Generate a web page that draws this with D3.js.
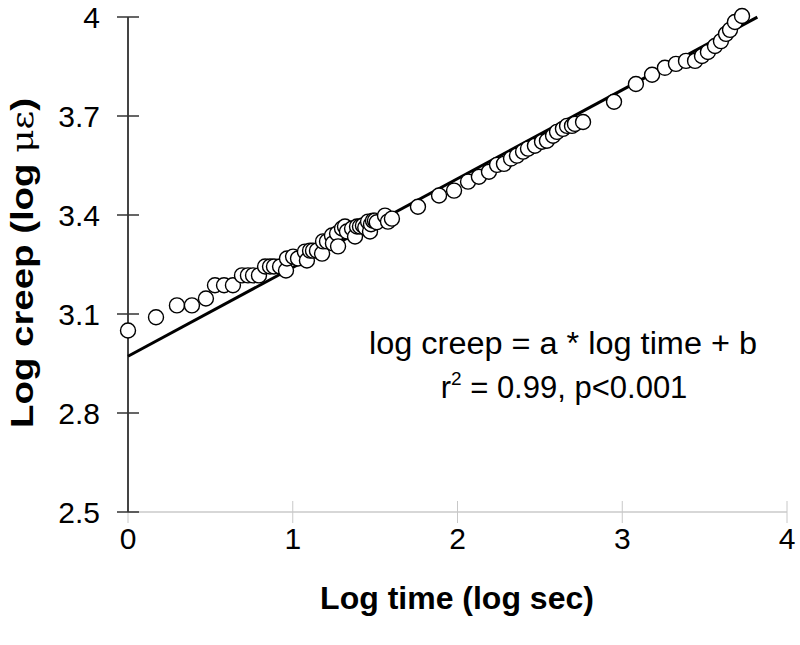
<!DOCTYPE html>
<html>
<head>
<meta charset="utf-8">
<script src="https://cdn.jsdelivr.net/npm/d3@7"></script>
<style>
  html, body { margin: 0; padding: 0; background: #fff; }
  svg { display: block; font-family: "Liberation Sans", Arial, sans-serif; }
</style>
</head>
<body>
<svg id="chart" width="800" height="645"></svg>
<script>
// Data: log time (log sec) vs log creep (log microstrain)
const logTime = [0.0, 0.17, 0.297, 0.388, 0.473, 0.528, 0.583, 0.637, 0.692, 0.728, 0.759, 0.795,
  0.832, 0.862, 0.886, 0.923, 0.959, 0.965, 1.002, 1.032, 1.074, 1.086, 1.105, 1.123, 1.147, 1.178,
  1.184, 1.208, 1.238, 1.244, 1.269, 1.275, 1.299, 1.317, 1.329, 1.36, 1.378, 1.39, 1.408, 1.426,
  1.44, 1.457, 1.469, 1.475, 1.487, 1.499, 1.51, 1.56, 1.578, 1.602, 1.76, 1.888, 1.979, 2.064,
  2.13, 2.191, 2.24, 2.282, 2.325, 2.361, 2.398, 2.428, 2.47, 2.513, 2.543, 2.58, 2.604, 2.64,
  2.665, 2.695, 2.713, 2.762, 2.95, 3.083, 3.181, 3.259, 3.326, 3.387, 3.442, 3.484, 3.52, 3.563,
  3.599, 3.63, 3.654, 3.684, 3.727];
const logCreep = [3.05, 3.09, 3.126, 3.126, 3.147, 3.187, 3.187, 3.187, 3.217, 3.217, 3.217, 3.217,
  3.244, 3.244, 3.244, 3.244, 3.232, 3.268, 3.274, 3.268, 3.289, 3.262, 3.292, 3.292, 3.292, 3.283,
  3.32, 3.32, 3.338, 3.314, 3.344, 3.305, 3.359, 3.365, 3.35, 3.359, 3.335, 3.365, 3.365, 3.368,
  3.362, 3.38, 3.35, 3.372, 3.383, 3.383, 3.378, 3.398, 3.38, 3.389, 3.425, 3.459, 3.474, 3.501,
  3.516, 3.531, 3.552, 3.555, 3.571, 3.58, 3.592, 3.601, 3.61, 3.622, 3.625, 3.64, 3.652, 3.661,
  3.67, 3.67, 3.676, 3.682, 3.743, 3.797, 3.825, 3.846, 3.858, 3.867, 3.867, 3.882, 3.894, 3.912,
  3.927, 3.949, 3.961, 3.985, 4.003];
// Fitted regression line: log creep = a * log time + b
const fitA = 0.269;
const fitB = 2.972;
const fitRange = [0, 3.82];
const xTicks = [0, 1, 2, 3, 4];
const yTicks = [2.5, 2.8, 3.1, 3.4, 3.7, 4.0];
const yTickLabels = ["2.5", "2.8", "3.1", "3.4", "3.7", "4"];

const svg = d3.select("#chart");
const x = d3.scaleLinear().domain([0, 4]).range([128, 787]);
const y = d3.scaleLinear().domain([2.5, 4]).range([512, 17]);

// X axis (light grey, crossing ticks)
const gx = svg.append("g");
gx.append("line").attr("x1", x(0)).attr("x2", x(4)).attr("y1", y(2.5)).attr("y2", y(2.5))
  .attr("stroke", "#b0b0b0").attr("stroke-width", 1.2);
gx.selectAll("line.tick").data(xTicks).join("line").attr("class", "tick")
  .attr("x1", d => x(d)).attr("x2", d => x(d))
  .attr("y1", y(2.5) - 11).attr("y2", y(2.5) + 11)
  .attr("stroke", "#c8c8c8").attr("stroke-width", 1);
gx.selectAll("text").data(xTicks).join("text")
  .attr("x", d => x(d)).attr("y", 549)
  .attr("text-anchor", "middle").attr("font-size", 30).attr("fill", "#000")
  .text(d => d);

// Y axis (dark, crossing ticks)
const gy = svg.append("g");
gy.append("line").attr("x1", x(0)).attr("x2", x(0)).attr("y1", y(2.5)).attr("y2", y(4))
  .attr("stroke", "#444").attr("stroke-width", 2);
gy.selectAll("line.tick").data(yTicks).join("line").attr("class", "tick")
  .attr("x1", x(0) - 11).attr("x2", x(0) + 11)
  .attr("y1", d => y(d)).attr("y2", d => y(d))
  .attr("stroke", "#333").attr("stroke-width", 1.5);
gy.selectAll("text").data(yTicks).join("text")
  .attr("x", 100).attr("y", d => y(d) + 11)
  .attr("text-anchor", "end").attr("font-size", 30).attr("fill", "#000")
  .text((d, i) => yTickLabels[i]);

// Regression line
svg.append("line")
  .attr("x1", x(fitRange[0])).attr("y1", y(fitA * fitRange[0] + fitB))
  .attr("x2", x(fitRange[1])).attr("y2", y(fitA * fitRange[1] + fitB))
  .attr("stroke", "#000").attr("stroke-width", 3);

// Points
svg.append("g").selectAll("circle").data(logTime).join("circle")
  .attr("cx", d => x(d)).attr("cy", (d, i) => y(logCreep[i]))
  .attr("r", 7.5).attr("fill", "#fff").attr("stroke", "#000").attr("stroke-width", 1.4);

// Axis titles
svg.append("text").attr("x", 457).attr("y", 609).attr("text-anchor", "middle")
  .attr("font-size", 32).attr("font-weight", "bold").text("Log time (log sec)");

const yt = svg.append("text").attr("transform", "translate(33,263) rotate(-90)")
  .attr("text-anchor", "middle").attr("font-size", 32).attr("font-weight", "bold")
  .attr("textLength", 330).attr("lengthAdjust", "spacingAndGlyphs");
yt.append("tspan").text("Log creep (log ");
yt.append("tspan").attr("font-weight", "normal").attr("font-family", "'DejaVu Serif', serif").attr("font-size", 30).text("με");
yt.append("tspan").text(")");

// Equation text
svg.append("text").attr("x", 563).attr("y", 354).attr("text-anchor", "middle")
  .attr("font-size", 31).attr("textLength", 388).attr("lengthAdjust", "spacingAndGlyphs")
  .text("log creep = a * log time + b");
const t2 = svg.append("text").attr("x", 564).attr("y", 398).attr("text-anchor", "middle")
  .attr("font-size", 31);
t2.append("tspan").text("r");
t2.append("tspan").attr("font-size", 19).attr("dy", -13).text("2");
t2.append("tspan").attr("dy", 13).text(" = 0.99, p<0.001");
</script>
</body>
</html>
